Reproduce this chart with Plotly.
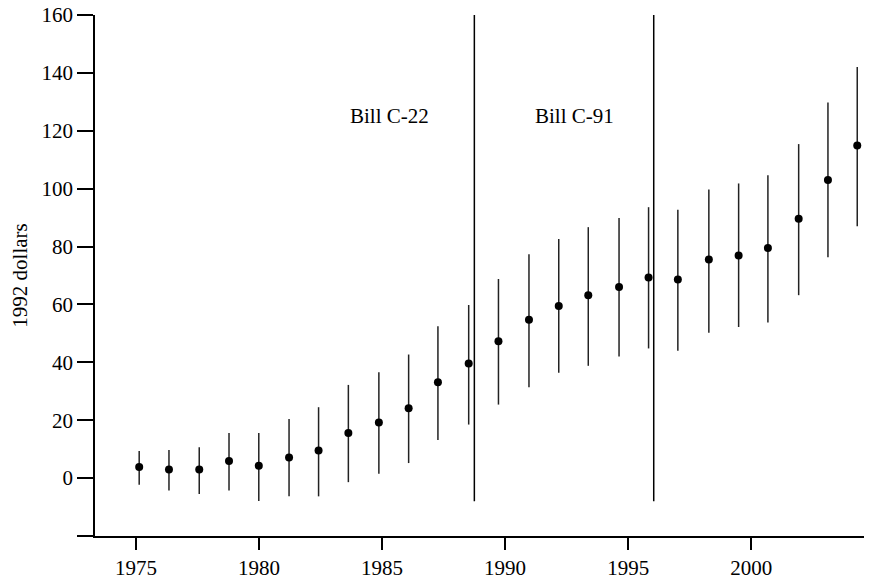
import plotly.graph_objects as go

years = [1975.13, 1976.34, 1977.57, 1978.78, 1979.99, 1981.22, 1982.42, 1983.63,
         1984.87, 1986.08, 1987.27, 1988.52, 1989.73, 1990.97, 1992.18, 1993.38,
         1994.63, 1995.83, 1997.02, 1998.28, 1999.49, 2000.68, 2001.93, 2003.12, 2004.31]
estimate = [3.8, 3.0, 3.0, 5.9, 4.3, 7.1, 9.5, 15.6, 19.2, 24.1, 33.1, 39.6, 47.3,
            54.7, 59.5, 63.2, 66.0, 69.3, 68.6, 75.5, 76.9, 79.5, 89.6, 103.0, 114.9]
upper = [9.4, 9.75, 10.7, 15.6, 15.6, 20.4, 24.5, 32.2, 36.6, 42.7, 52.5, 59.8, 68.8,
         77.3, 82.6, 86.7, 89.9, 93.6, 92.7, 99.7, 101.8, 104.6, 115.4, 129.8, 142.0]
lower = [-2.3, -4.3, -5.5, -4.3, -7.9, -6.3, -6.3, -1.4, 1.5, 5.2, 13.2, 18.5, 25.4,
         31.4, 36.4, 38.8, 42.0, 44.8, 44.0, 50.2, 52.2, 53.8, 63.2, 76.3, 87.0]

bill_years = [1988.75, 1996.04]
bill_line_range = [-8, 160]
bill_labels = ["Bill C-22", "Bill C-91"]
bill_label_x = [1985.31, 1992.83]
bill_label_y = 125.2

x_ticks = [1975, 1980, 1985, 1990, 1995, 2000]
y_ticks = [-20, 0, 20, 40, 60, 80, 100, 120, 140, 160]
y_ticktext = ["" if v == -20 else str(v) for v in y_ticks]

err_plus = [u - e for u, e in zip(upper, estimate)]
err_minus = [e - l for e, l in zip(estimate, lower)]

FONT = "Liberation Serif, Times New Roman, serif"

fig = go.Figure()
fig.add_trace(go.Scatter(
    x=years, y=estimate, mode="markers",
    marker=dict(color="black", size=8),
    error_y=dict(type="data", array=err_plus, arrayminus=err_minus,
                 width=0, thickness=1.5, color="#222222"),
    showlegend=False, cliponaxis=False,
))

for by in bill_years:
    fig.add_shape(type="line", xref="x", yref="y", x0=by, x1=by,
                  y0=bill_line_range[0], y1=bill_line_range[1],
                  line=dict(color="black", width=1.5))

for lbl, lx in zip(bill_labels, bill_label_x):
    fig.add_annotation(x=lx, y=bill_label_y, text=lbl, showarrow=False,
                       font=dict(family=FONT, size=21, color="black"))

fig.update_layout(
    width=864, height=572,
    margin=dict(l=87, r=0, t=7, b=44, autoexpand=False),
    paper_bgcolor="white", plot_bgcolor="white",
    font=dict(family=FONT, size=21, color="black"),
    xaxis=dict(range=[1973.334, 2004.91], tickvals=x_ticks, showgrid=False,
               zeroline=False, showline=True, linecolor="black", linewidth=1.5,
               ticks="outside", ticklen=12, tickwidth=1.5, tickcolor="black",
               automargin=False, ticklabeloverflow="allow"),
    yaxis=dict(range=[-20, 160], tickvals=y_ticks, ticktext=y_ticktext,
               showgrid=False, zeroline=False, showline=True, linecolor="black",
               linewidth=1.5, ticks="outside", ticklen=16, tickwidth=1.5,
               tickcolor="black", automargin=False, ticklabeloverflow="allow",
               title=dict(text="1992 dollars", standoff=14,
                          font=dict(family=FONT, size=21))),
)

fig.write_html("out.html")
